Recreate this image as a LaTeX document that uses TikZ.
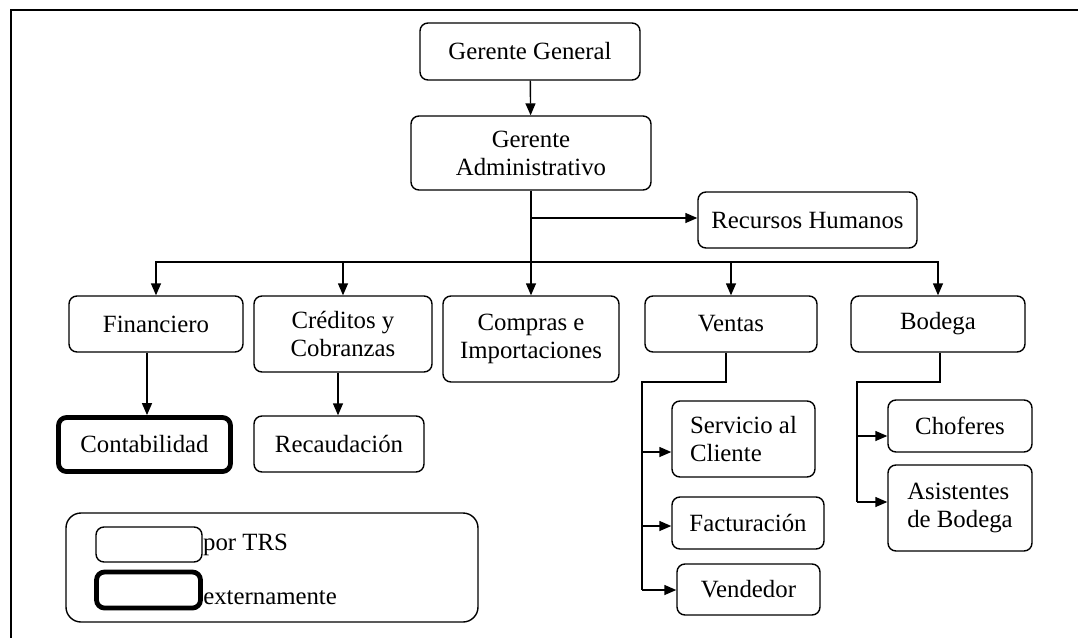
\documentclass[tikz,border=0pt]{standalone}
\usepackage{fontspec}
\setmainfont{Liberation Serif}
\usetikzlibrary{arrows.meta}

\tikzset{
  caja/.style={draw=black, rounded corners=4pt, line width=0.7pt, fill=white,
    inner sep=2pt, align=center, font=\fontsize{12.4}{14}\selectfont},
  cajagruesa/.style={caja, line width=2.4pt},
  enlace/.style={line width=0.7pt},
  flecha/.style={enlace, -{Triangle[length=6pt,width=5pt]}}
}

\begin{document}
\begin{tikzpicture}[x=0.5pt, y=-0.5pt]
  \useasboundingbox (0,0) rectangle (1078,638);

  % marco
  \draw[line width=1.3pt] (11,638) -- (11,10) -- (1078,10);

  % nodos
  \node[caja, minimum width=110pt, minimum height=28.5pt] (gg) at (530,51.5) {Gerente General};
  \node[caja, minimum width=120pt, minimum height=37pt] (ga) at (531,153) {Gerente\\Administrativo};
  \node[caja, minimum width=109.5pt, minimum height=28pt] (rh) at (807.5,220) {Recursos Humanos};
  \node[caja, minimum width=87pt, minimum height=28pt] (fin) at (156,324) {Financiero};
  \node[caja, minimum width=89pt, minimum height=38pt] (cre) at (343,334) {Créditos y\\Cobranzas};
  \node[caja, minimum width=88pt, minimum height=43pt] (com) at (531,339) {Compras e\\Importaciones};
  \node[caja, minimum width=86pt, minimum height=28pt] (ven) at (731,324) {Ventas};
  \node[caja, minimum width=87pt, minimum height=28pt] (bod) at (938,324) {Bodega};
  \node[cajagruesa, minimum width=86pt, minimum height=27pt] (con) at (144.5,444.5) {Contabilidad};
  \node[caja, minimum width=85pt, minimum height=28pt] (rec) at (339,444) {Recaudación};
  \node[caja, align=left, minimum width=71.5pt, minimum height=38pt] (sc) at (743.5,439) {Servicio al\\Cliente};
  \node[caja, minimum width=76pt, minimum height=26pt] (fac) at (748,523) {Facturación};
  \node[caja, minimum width=71.5pt, minimum height=25.5pt] (vnd) at (748.5,589.5) {Vendedor};
  \node[caja, minimum width=72pt, minimum height=26pt] (cho) at (960,426) {Choferes};
  \node[caja, align=left, minimum width=72pt, minimum height=43pt] (asi) at (960,508) {Asistentes\\de Bodega};

  % conectores
  \coordinate (rhj) at (531,218);
  \coordinate (barra) at (531,262);
  \draw[flecha] (gg) -- (ga);
  \draw[enlace] (ga) -- (barra);
  \draw[flecha] (rhj) -- (rhj -| rh.west);
  \foreach \n in {fin,cre,com,ven,bod}
    \draw[flecha] (barra) -| (\n);
  \draw[flecha] (fin.south -| 147,0) -- (con.north -| 147,0);
  \draw[flecha] (cre.south -| 338,0) -- (rec.north -| 338,0);

  \coordinate (vsup) at (642,382);
  \coordinate (vinf) at (642,590);
  \draw[enlace] (ven.south -| 726,0) |- (vsup) -- (vinf);
  \draw[flecha] ([yshift=-6.5pt]vsup |- sc) -- ([yshift=-6.5pt]sc.west);
  \draw[flecha] ([yshift=-1.5pt]vsup |- fac) -- ([yshift=-1.5pt]fac.west);
  \draw[flecha] (vinf) -- (vinf -| vnd.west);

  \coordinate (bsup) at (857,382);
  \coordinate (binf) at (857,502);
  \draw[enlace] (bod.south -| 940,0) |- (bsup) -- (binf);
  \draw[flecha] ([yshift=-5pt]bsup |- cho) -- ([yshift=-5pt]cho.west);
  \draw[flecha] (binf) -- (binf -| asi.west);

  % leyenda
  \node[draw=black, line width=0.7pt, rounded corners=7.5pt, minimum width=206pt,
    minimum height=54.5pt] (ley) at (272,567.5) {};
  \node[caja, minimum width=53pt, minimum height=17.5pt] (lfina) at (149,544.5) {};
  \node[cajagruesa, minimum width=52pt, minimum height=18pt] (lgruesa) at (148.5,590) {};
  \node[anchor=west, inner sep=0pt, font=\fontsize{12.4}{14}\selectfont] (tfina)
    at (lfina.east) {por TRS};
  \node[anchor=west, inner sep=0pt, font=\fontsize{12.4}{14}\selectfont] (tgruesa)
    at ([yshift=-4pt]lgruesa.east) {externamente};
\end{tikzpicture}
\end{document}
